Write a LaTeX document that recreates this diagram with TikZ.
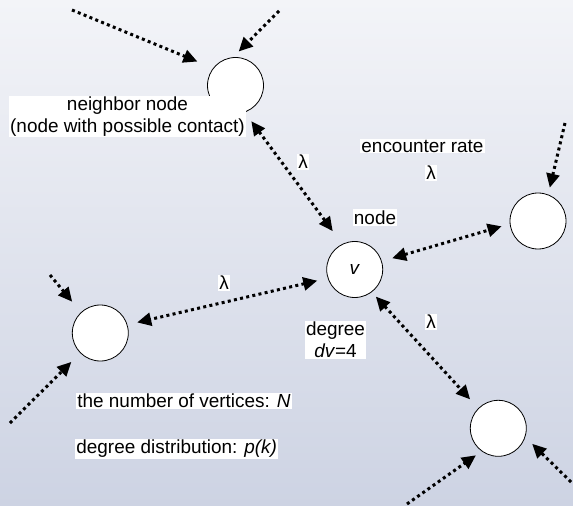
\documentclass[tikz,border=0pt]{standalone}
\usepackage{fontspec}
\setmainfont{Liberation Sans}
\usetikzlibrary{arrows.meta}

\begin{document}
\begin{tikzpicture}[x=1bp,y=-1bp,
  vertex/.style={circle,draw=black,line width=0.8bp,fill=white,minimum size=56bp,inner sep=0pt,
    font=\fontsize{19}{22}\selectfont},
  tag/.style={fill=white,inner sep=1.2bp,align=center,font=\fontsize{19}{22}\selectfont},
  tip/.tip={Triangle[length=14bp,width=13bp]},
  dotline/.style={line width=3bp,dash pattern=on 3bp off 3.3bp},
  oneway/.style={dotline,-tip},
  twoway/.style={dotline,tip-tip}]

% backdrop
\useasboundingbox (0,0) rectangle (573,506);
\shade[top color={rgb,255:red,243;green,244;blue,248},
       bottom color={rgb,255:red,205;green,211;blue,227}] (0,0) rectangle (573,506);

% vertices
\node[vertex] (nb) at (235.5,85.5) {};
\node[vertex] (v)  at (354.7,269.5) {\textit{v}};
\node[vertex] (rt) at (538,221) {};
\node[vertex] (lf) at (100.3,333) {};
\node[vertex] (br) at (498.3,428.3) {};

% loose ends of incoming links
\coordinate (s1) at (72,10);
\coordinate (s2) at (279,11);
\coordinate (s3) at (565,123);
\coordinate (s4) at (50,275);
\coordinate (s5) at (10,423);
\coordinate (s6) at (407,504);
\coordinate (s7) at (571,482);

% contacts of v
\draw[twoway, shorten <=11bp, shorten >=16bp] (nb.-71) -- (v.116.5);
\draw[twoway, shorten <=10.7bp, shorten >=8.5bp] (v.17.3) -- (rt.186.3);
\draw[twoway, shorten <=10.7bp, shorten >=10bp] (v.198.4) -- (lf.17.2);
\draw[twoway, shorten <=6bp, shorten >=12bp] (v.-53.3) -- (br.135);

% contacts of the other vertices
\draw[oneway, shorten >=17bp] (s1) -- (nb.142.2);
\draw[oneway, shorten >=8bp] (s2) -- (nb.95.6);
\draw[oneway, shorten >=7bp] (s3) -- (rt.69.2);
\draw[oneway, shorten >=13.7bp] (s4) -- (lf.133.9);
\draw[oneway, shorten >=12.5bp] (s5) -- (lf.225);
\draw[oneway, shorten >=7bp] (s6) -- (br.234.4);
\draw[oneway, shorten >=9.6bp] (s7) -- (br.-18.1);

% labels
\node[tag] (nbl) at (127.5,116.5) {neighbor node\\(node with possible contact)};
\node[tag] (enc) at (422.5,146) {encounter rate};
\node[tag] (l0) at (431,173) {λ};
\node[tag] (l1) at (303,162) {λ};
\node[tag] (l2) at (224,283) {λ};
\node[tag] (l3) at (431,322) {λ};
\node[tag] (nd) at (375,217.5) {node};
\node[tag] (dg) at (335.5,340) {degree\\\textit{dv}=4};
\node[tag,anchor=west] (nv) at (76,401) {the number of vertices: \textit{N}};
\node[tag,anchor=west] (pk) at (75,449) {degree distribution: \textit{p(k)}};
\end{tikzpicture}
\end{document}
